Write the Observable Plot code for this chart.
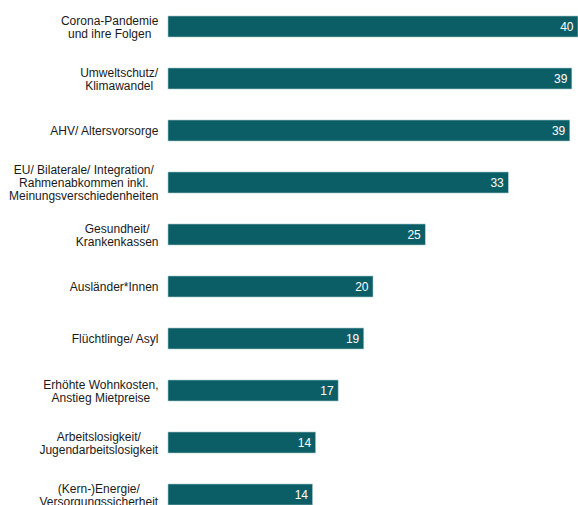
<!DOCTYPE html>
<html><head><meta charset="utf-8">
<script src="https://cdn.jsdelivr.net/npm/d3@7"></script>
<script src="https://cdn.jsdelivr.net/npm/@observablehq/plot@0.6"></script>
<style>body{margin:0;background:#fff;font-family:"Liberation Sans",Arial,sans-serif;overflow:hidden}</style>
</head><body><div id="chart"></div>
<script>
const categories = [
  "Corona-Pandemie\nund ihre Folgen",
  "Umweltschutz/\nKlimawandel",
  "AHV/ Altersvorsorge",
  "EU/ Bilaterale/ Integration/\nRahmenabkommen inkl.\nMeinungsverschiedenheiten",
  "Gesundheit/\nKrankenkassen",
  "Ausländer*Innen",
  "Flüchtlinge/ Asyl",
  "Erhöhte Wohnkosten,\nAnstieg Mietpreise",
  "Arbeitslosigkeit/\nJugendarbeitslosigkeit",
  "(Kern-)Energie/\nVersorgungssicherheit"
];
const values = [40, 39.4, 39.2, 33.2, 25.1, 20, 19.1, 16.6, 14.4, 14.1];
const valueLabels = ["40", "39", "39", "33", "25", "20", "19", "17", "14", "14"];

const data = categories.map((c, i) => ({category: c, value: values[i], label: valueLabels[i]}));

const chart = Plot.plot({
  width: 578, height: 505,
  marginLeft: 168, marginRight: 0, marginTop: 0, marginBottom: 0,
  x: {domain: [0, 40], axis: null},
  y: {domain: categories, range: [0, 520], paddingInner: 0.6, paddingOuter: 0.3, axis: null},
  style: {fontFamily: "'Liberation Sans', Arial, sans-serif", fontSize: "12px", background: "white"},
  marks: [
    Plot.barX(data, {x: "value", y: "category", fill: "#0b5e66", stroke: "#a9c9cb", strokeWidth: 0.6}),
    Plot.text(data, {x: "value", y: "category", text: "label", fill: "white", textAnchor: "end", dx: -5, fontSize: 12}),
    Plot.text(data, {x: 0, y: "category", text: "category", textAnchor: "middle", dx: -10, lineHeight: 1.1, fill: "#1a1a1a", fontSize: 12})
  ]
});
document.getElementById("chart").appendChild(chart);
const groups = chart.querySelectorAll('g[aria-label="text"]');
const labelGroup = groups[groups.length - 1];
for (const t of labelGroup.querySelectorAll("text")) {
  const w = t.getBBox().width;
  const tr = t.getAttribute("transform") || "";
  t.setAttribute("transform", tr + ` translate(${-w / 2},0)`);
}
</script>
</body></html>
